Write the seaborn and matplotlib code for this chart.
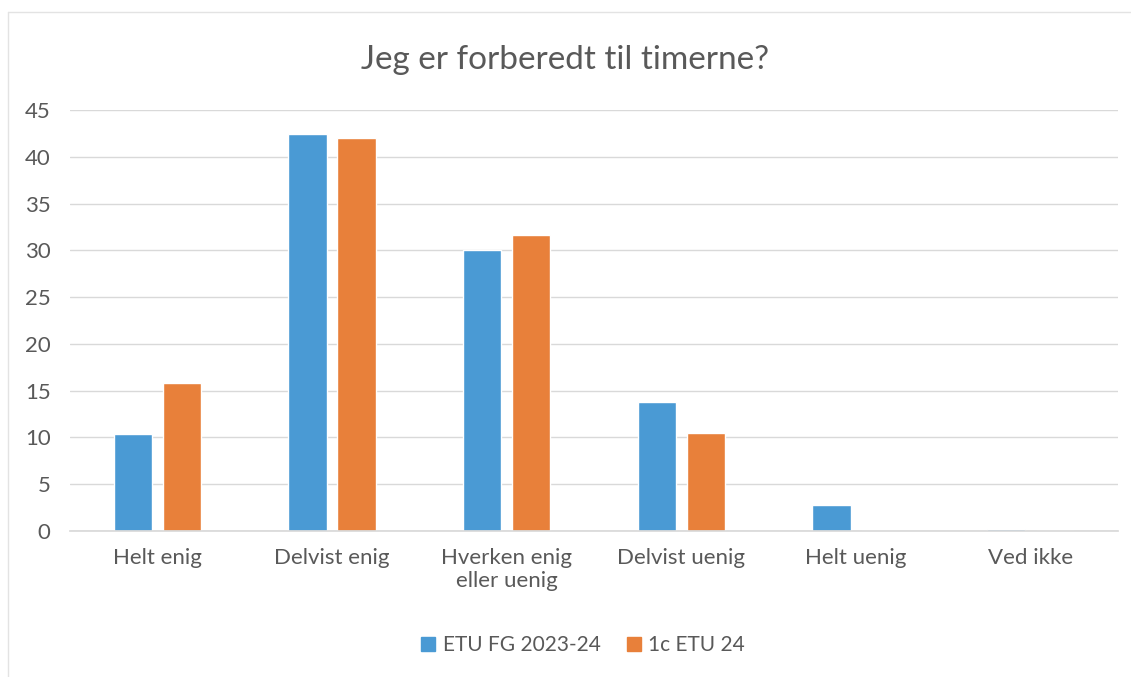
import matplotlib
matplotlib.use("Agg")
import matplotlib.pyplot as plt
import seaborn as sns
import pandas as pd
from matplotlib.lines import Line2D

categories = ["Helt enig", "Delvist enig", "Hverken enig\neller uenig",
              "Delvist uenig", "Helt uenig", "Ved ikke"]
series_names = ["ETU FG 2023-24", "1c ETU 24"]
etu_fg = [10.4, 42.4, 30.0, 13.8, 2.8, 0.2]
c1_etu = [15.8, 42.0, 31.6, 10.5, 0.0, 0.0]
yticks = [0, 5, 10, 15, 20, 25, 30, 35, 40, 45]
title = "Jeg er forberedt til timerne?"

df = pd.DataFrame({
    "cat": categories * 2,
    "series": [series_names[0]] * 6 + [series_names[1]] * 6,
    "val": etu_fg + c1_etu,
})

sns.set_theme(style="white")
plt.rcParams["font.family"] = ["Lato", "DejaVu Sans"]
txt = "#595959"
colors = ["#4A9AD4", "#E8803A"]

fig = plt.figure(figsize=(11.31, 6.77), dpi=100)
ax = fig.add_axes([70 / 1131, 1 - 531 / 677, (1118 - 70) / 1131, (531 - 110) / 677])

sns.barplot(data=df, x="cat", y="val", hue="series", palette=colors,
            width=0.56, gap=0.22, ax=ax, legend=False, saturation=1)

ax.set_ylim(0, 45)
ax.set_xlim(-0.5, 5.5)
ax.set_yticks(yticks)
ax.yaxis.grid(True, color="#d9d9d9", linewidth=1)
ax.set_axisbelow(True)
for s in ["top", "right", "left"]:
    ax.spines[s].set_visible(False)
ax.spines["bottom"].set_color("#d9d9d9")
ax.set_xlabel("")
ax.set_ylabel("")
ax.tick_params(axis="both", length=0, labelsize=16, labelcolor=txt)
ax.tick_params(axis="y", pad=14)
ax.tick_params(axis="x", pad=12)

fig.text(0.5, 1 - 60 / 677, title, ha="center", va="center", fontsize=24, color=txt)

handles = [Line2D([], [], marker="s", linestyle="", markersize=10,
                  markerfacecolor=c, markeredgecolor=c) for c in colors]
fig.legend(handles, series_names, loc="center", bbox_to_anchor=(0.515, 1 - 645 / 677),
           ncol=2, frameon=False, fontsize=15, labelcolor=txt,
           handletextpad=0.3, columnspacing=1.2, handlelength=0.8)

# faint chart border (left and top)
fig.add_artist(Line2D([8 / 1131, 8 / 1131], [0, 1 - 12 / 677], color="#e3e3e3", lw=1))
fig.add_artist(Line2D([8 / 1131, 1], [1 - 12 / 677, 1 - 12 / 677], color="#e3e3e3", lw=1))

fig.savefig("out.png", dpi=100)
